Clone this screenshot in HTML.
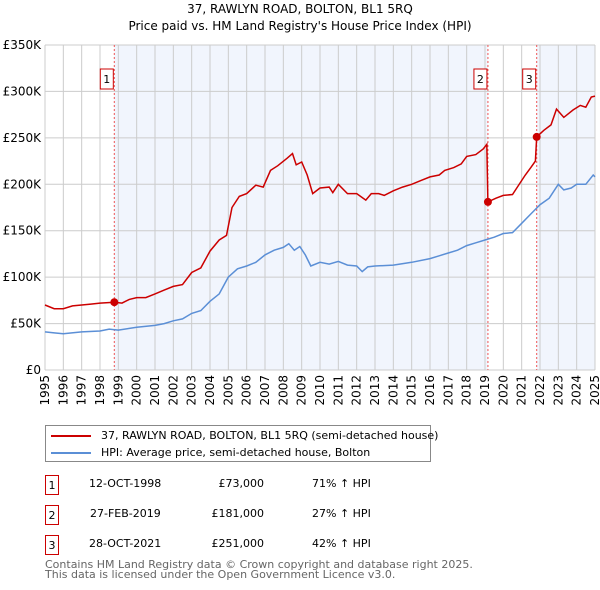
<!DOCTYPE html>
<html><head><meta charset="utf-8"><style>
body{margin:0;background:#fff;font-family:"DejaVu Sans","Liberation Sans",sans-serif;}
#wrap{position:relative;width:600px;height:590px;overflow:hidden}
.t{position:absolute;font-size:11px;color:#000;white-space:nowrap}
.box{position:absolute;border:1px solid #c00;width:14px;height:20px;font-size:11px;text-align:center;line-height:19px;box-sizing:border-box}
</style></head><body><div id="wrap">
<svg id="c" width="600" height="420" style="position:absolute;left:0;top:0" font-family="DejaVu Sans, Liberation Sans, sans-serif"></svg>
<div class="t" style="left:0;width:600px;text-align:center;top:2px;font-size:12px">37, RAWLYN ROAD, BOLTON, BL1 5RQ</div>
<div class="t" style="left:0;width:600px;text-align:center;top:19px;font-size:12px">Price paid vs. HM Land Registry's House Price Index (HPI)</div>
<div style="position:absolute;left:45px;top:425px;width:386px;height:37px;border:1px solid #888;box-sizing:border-box">
 <div style="position:absolute;left:5px;top:9px;width:40px;height:2px;background:#c00"></div>
 <div class="t" style="left:55px;top:3px">37, RAWLYN ROAD, BOLTON, BL1 5RQ (semi-detached house)</div>
 <div style="position:absolute;left:5px;top:26px;width:40px;height:2px;background:#5b8fd6"></div>
 <div class="t" style="left:55px;top:20px">HPI: Average price, semi-detached house, Bolton</div>
</div>
<div class="box" style="left:45px;top:475px">1</div>
<div class="t" style="left:89px;top:477px">12-OCT-1998</div>
<div class="t" style="left:164px;width:100px;text-align:right;top:477px">£73,000</div>
<div class="t" style="left:312px;top:477px">71% ↑ HPI</div>
<div class="box" style="left:45px;top:505px">2</div>
<div class="t" style="left:90px;top:507px">27-FEB-2019</div>
<div class="t" style="left:164px;width:100px;text-align:right;top:507px">£181,000</div>
<div class="t" style="left:312px;top:507px">27% ↑ HPI</div>
<div class="box" style="left:45px;top:535px">3</div>
<div class="t" style="left:89px;top:537px">28-OCT-2021</div>
<div class="t" style="left:164px;width:100px;text-align:right;top:537px">£251,000</div>
<div class="t" style="left:312px;top:537px">42% ↑ HPI</div>
<div class="t" style="left:45px;top:560px;color:#666;line-height:10px">Contains HM Land Registry data © Crown copyright and database right 2025.<br>This data is licensed under the Open Government Licence v3.0.</div>
</div>
<script>
const hpiX=[1995,1995.5,1996,1997,1998,1998.5,1999,2000,2001,2001.5,2002,2002.5,2003,2003.5,2004,2004.5,2005,2005.5,2006,2006.5,2007,2007.5,2008,2008.3,2008.6,2008.9,2009.2,2009.5,2010,2010.5,2011,2011.5,2012,2012.3,2012.6,2013,2014,2015,2016,2016.5,2017,2017.5,2018,2018.5,2019,2019.5,2020,2020.5,2021,2021.5,2022,2022.5,2023,2023.3,2023.7,2024,2024.5,2024.9,2025];
const hpiY=[41,40,39,41,42,44,43,46,48,50,53,55,61,64,74,82,100,109,112,116,124,129,132,136,129,133,124,112,116,114,117,113,112,106,111,112,113,116,120,123,126,129,134,137,140,143,147,148,158,168,178,185,200,194,196,200,200,210,208];
const propX=[1995,1995.5,1996,1996.5,1997,1997.5,1998,1998.78,1999.2,1999.6,2000,2000.5,2001,2001.5,2002,2002.5,2003,2003.5,2004,2004.5,2004.9,2005.2,2005.6,2006,2006.5,2006.9,2007.3,2007.7,2008.2,2008.5,2008.7,2009,2009.3,2009.6,2010,2010.5,2010.7,2011,2011.5,2012,2012.5,2012.8,2013.2,2013.5,2014,2014.5,2015,2015.5,2016,2016.5,2016.8,2017.3,2017.7,2018,2018.5,2018.9,2019.1,2019.16,2019.6,2020,2020.5,2020.8,2021.2,2021.5,2021.75,2021.82,2022.2,2022.6,2022.9,2023.3,2023.8,2024.2,2024.5,2024.8,2025];
const propY=[70,66,66,69,70,71,72,73,72,76,78,78,82,86,90,92,105,110,128,140,145,175,187,190,199,197,215,220,228,233,221,224,210,190,196,197,191,200,190,190,183,190,190,188,193,197,200,204,208,210,215,218,222,230,232,238,243,181,185,188,189,198,210,218,225,251,258,264,281,272,280,285,283,294,295];
const saleX=[1998.78,2019.16,2021.82];
const saleY=[73,181,251];
const saleLabels=["1","2","3"];
const yTicks=[0,50,100,150,200,250,300,350];
const yTickLabels=["£0","£50K","£100K","£150K","£200K","£250K","£300K","£350K"];
const years=[];for(let y=1995;y<=2025;y++)years.push(y);
const NS="http://www.w3.org/2000/svg",svg=document.getElementById('c');
const X0=45,X1=595,Y0=370,Y1=45;
const sx=v=>X0+(v-1995)/30*(X1-X0), sy=v=>Y0-v/350*(Y0-Y1);
function mk(t,a){const e=document.createElementNS(NS,t);for(const k in a)e.setAttribute(k,a[k]);svg.appendChild(e);return e;}
let r=mk('rect',{x:sx(saleX[0]),y:Y1,width:sx(saleX[1])-sx(saleX[0]),height:Y0-Y1,fill:'#f1f5fd'});

r=mk('rect',{x:sx(saleX[2]),y:Y1,width:X1-sx(saleX[2]),height:Y0-Y1,fill:'#f1f5fd'});

years.forEach(y=>{const l=mk('line',{x1:sx(y),x2:sx(y),y1:Y1,y2:Y0,stroke:'#ccc','stroke-width':1});

const t=mk('text',{x:0,y:0,'font-size':12,transform:`translate(${sx(y)+4},${Y0+5}) rotate(-90)`,'text-anchor':'end'});t.textContent=y;
});
yTicks.forEach((v,i)=>{const l=mk('line',{x1:X0,x2:X1,y1:sy(v),y2:sy(v),stroke:'#ccc','stroke-width':1});

const t=mk('text',{x:X0-4,y:sy(v)+4,'font-size':12,'text-anchor':'end'});t.textContent=yTickLabels[i];
});
saleX.forEach((v,i)=>{const l=mk('line',{x1:sx(v),x2:sx(v),y1:Y1,y2:Y0,stroke:'#e55','stroke-width':1,'stroke-dasharray':'2,2'});

const b=mk('rect',{x:sx(v)-14,y:69,width:13,height:20,fill:'#fff',stroke:'#c00'});

const t=mk('text',{x:sx(v)-7.5,y:83,'font-size':11,'text-anchor':'middle'});t.textContent=saleLabels[i];
});
const path=(xs,ys)=>xs.map((x,i)=>(i?'L':'M')+sx(x).toFixed(1)+','+sy(ys[i]).toFixed(1)).join('');
let p=mk('path',{d:path(hpiX,hpiY),fill:'none',stroke:'#5b8fd6','stroke-width':1.5});

p=mk('path',{d:path(propX,propY),fill:'none',stroke:'#c00','stroke-width':1.5});

saleX.forEach((v,i)=>{const c=mk('circle',{cx:sx(v),cy:sy(saleY[i]),r:4,fill:'#c00'});
});
</script></body></html>
